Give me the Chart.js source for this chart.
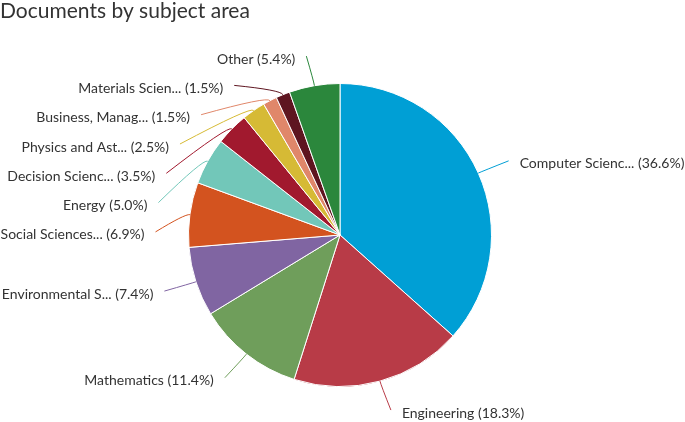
<!DOCTYPE html>
<html>
<head>
<meta charset="utf-8">
<script src="https://cdn.jsdelivr.net/npm/chart.js@4/dist/chart.umd.min.js"></script>
<style>
    html, body { margin: 0; padding: 0; background: #fff; }
    #wrap { width: 685px; height: 422px; position: relative; }
</style>
</head>
<body>
<div id="wrap"><canvas id="subjectChart"></canvas></div>
<script>
    const chartTitle = "Documents by subject area";
    const categories = [
        "Computer Scienc...",
        "Engineering",
        "Mathematics",
        "Environmental S...",
        "Social Sciences...",
        "Energy",
        "Decision Scienc...",
        "Physics and Ast...",
        "Business, Manag...",
        "Materials Scien...",
        "Other"
    ];
    const shares = [36.6, 18.3, 11.4, 7.4, 6.9, 5.0, 3.5, 2.5, 1.5, 1.5, 5.4];
    const sliceColors = [
        "#009fd5", "#b83b47", "#6f9e5b", "#8065a2", "#d3531f", "#72c7b9",
        "#a1192e", "#d6ba35", "#e0876a", "#5e1520", "#2b873c"
    ];

    const labelFont = "14px Lato";
    const textColor = "#333333";
    const labelDistance = 30;
    const labelGap = 29.3;

    const pieLabels = {
        id: "pieLabels",
        afterDraw(chart) {
            const ctx = chart.ctx;
            const arcs = chart.getDatasetMeta(0).data;
            const items = arcs.map((arc, i) => {
                const mid = (arc.startAngle + arc.endAngle) / 2;
                const r = arc.outerRadius;
                return {
                    i,
                    cx: arc.x,
                    cy: arc.y,
                    r,
                    cos: Math.cos(mid),
                    sin: Math.sin(mid),
                    left: Math.cos(mid) < 0,
                    ly: arc.y + Math.sin(mid) * (r + labelDistance)
                };
            });

            // push crowded labels apart, per side
            [true, false].forEach((side) => {
                const list = items.filter((it) => it.left === side).sort((a, b) => a.ly - b.ly);
                for (let k = 1; k < list.length; k++) {
                    if (list[k].ly < list[k - 1].ly + labelGap) {
                        list[k].ly = list[k - 1].ly + labelGap;
                    }
                }
            });

            ctx.save();
            ctx.font = labelFont;
            ctx.textBaseline = "middle";
            items.forEach((it) => {
                const R = it.r + labelDistance;
                const dy = it.ly - it.cy;
                const dx = Math.sqrt(Math.max(R * R - dy * dy, 0));
                const sign = it.left ? -1 : 1;
                const ax = it.cx + sign * dx;
                const tx = it.cx + it.cos * it.r;
                const ty = it.cy + it.sin * it.r;
                const bx = it.cx + it.cos * (it.r + 5);
                const by = it.cy + it.sin * (it.r + 5);
                const lx = ax + sign * 3;

                ctx.strokeStyle = sliceColors[it.i];
                ctx.lineWidth = 1;
                ctx.beginPath();
                ctx.moveTo(lx, it.ly);
                ctx.quadraticCurveTo(bx, by, tx, ty);
                ctx.stroke();

                ctx.fillStyle = textColor;
                ctx.textAlign = it.left ? "right" : "left";
                const text = categories[it.i] + " (" + shares[it.i].toFixed(1) + "%)";
                ctx.fillText(text, ax + sign * 14, it.ly + 3);
            });

            ctx.font = "21px Lato";
            ctx.textAlign = "left";
            ctx.textBaseline = "alphabetic";
            ctx.fillText(chartTitle, 0, 18);
            ctx.restore();
        }
    };

    new Chart(document.getElementById("subjectChart"), {
        type: "pie",
        data: {
            labels: categories,
            datasets: [{
                data: shares,
                backgroundColor: sliceColors,
                borderColor: "#ffffff",
                borderWidth: 1
            }]
        },
        options: {
            responsive: true,
            maintainAspectRatio: false,
            animation: false,
            events: [],
            layout: {
                padding: { left: 188, right: 193, top: 83, bottom: 35 }
            },
            plugins: {
                legend: { display: false },
                tooltip: { enabled: false },
                title: { display: false }
            }
        },
        plugins: [pieLabels]
    });
</script>
</body>
</html>
